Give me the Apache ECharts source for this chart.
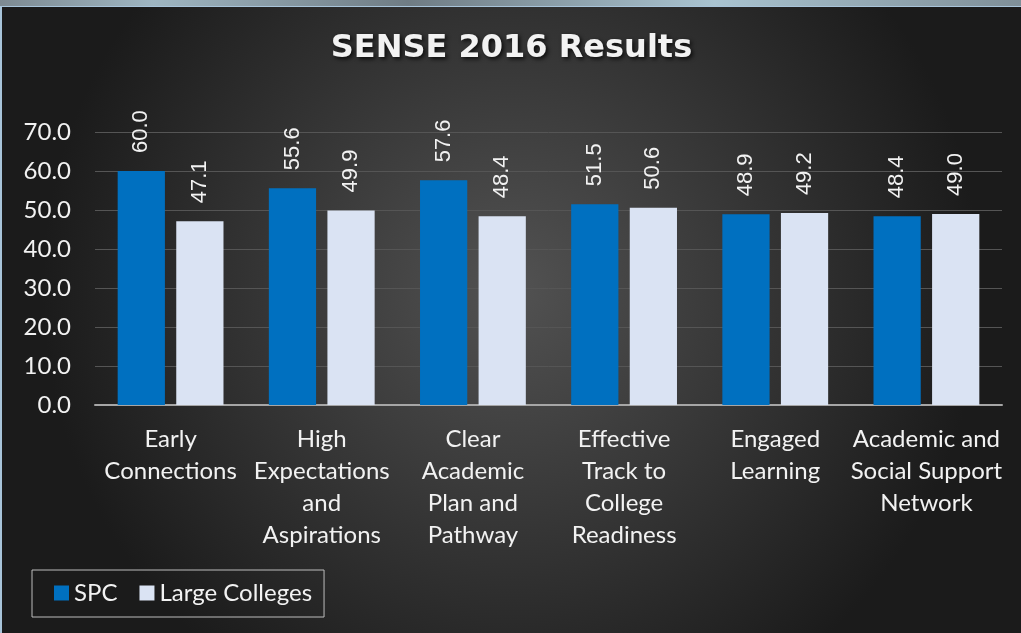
<!DOCTYPE html>
<html>
<head>
<meta charset="utf-8">
<script src="https://cdn.jsdelivr.net/npm/echarts@6/dist/echarts.min.js"></script>
<style>
	html, body { margin: 0; padding: 0; background: #1e1e1e; }
	#strip { position: absolute; left: 0; top: 0; width: 1021px; height: 6px;
		background: linear-gradient(90deg, #7d8a92, #9fb6c2 15%, #6f7c84 40%, #a9c3d0 70%, #7f8f98); }
	#chart { position: absolute; left: 0; top: 6px; width: 1021px; height: 627px;
		border-top: 1px solid #a8c4da; border-left: 2px solid #a8c4da; box-sizing: border-box; }
</style>
</head>
<body>
<div id="strip"></div>
<div id="chart"></div>
<script>
var categories = ['Early\nConnections', 'High\nExpectations\nand\nAspirations', 'Clear\nAcademic\nPlan and\nPathway',
	'Effective\nTrack to\nCollege\nReadiness', 'Engaged\nLearning', 'Academic and\nSocial Support\nNetwork'];
var spcValues = [60.0, 55.6, 57.6, 51.5, 48.9, 48.4];
var largeValues = [47.1, 49.9, 48.4, 50.6, 49.2, 49.0];
var seriesNames = ['SPC', 'Large Colleges'];

window.onload = function() {
	var myChart = echarts.init(document.getElementById('chart'));
	var labelStyle = {
		show: true,
		position: 'top',
		rotate: 90,
		align: 'left',
		verticalAlign: 'middle',
		distance: 18,
		color: '#f2f2f2',
		fontFamily: 'Liberation Sans',
		fontSize: 22,
		formatter: function(p) { return p.value.toFixed(1); }
	};
	var option = {
		backgroundColor: {
			type: 'radial', x: 0.5, y: 0.45, r: 0.75,
			colorStops: [{ offset: 0, color: '#525252' }, { offset: 1, color: '#1b1b1b' }]
		},
		animation: false,
		title: {
			text: 'SENSE 2016 Results',
			left: 'center',
			top: 21,
			textStyle: {
				color: '#f2f2f2', fontFamily: 'DejaVu Sans', fontWeight: 'bold', fontSize: 32,
				textShadowColor: 'rgba(0,0,0,0.8)', textShadowBlur: 4, textShadowOffsetX: 2, textShadowOffsetY: 2
			}
		},
		legend: {
			data: seriesNames,
			left: 30,
			top: 563,
			padding: [11, 12, 12, 22],
			borderColor: '#bdbdbd',
			borderWidth: 1,
			itemWidth: 15,
			itemHeight: 15,
			itemGap: 22,
			icon: 'rect',
			textStyle: { color: '#f2f2f2', fontFamily: 'Lato', fontSize: 24 }
		},
		grid: { left: 93, right: 19, top: 125, bottom: 228, containLabel: false },
		xAxis: {
			type: 'category',
			data: categories,
			axisLine: { lineStyle: { color: '#a6a6a6', width: 2 } },
			axisTick: { show: false },
			axisLabel: {
				color: '#f2f2f2', fontFamily: 'Lato', fontSize: 24, lineHeight: 32,
				margin: 18, interval: 0
			}
		},
		yAxis: {
			type: 'value',
			min: 0, max: 70, interval: 10,
			axisLine: { show: false },
			axisTick: { show: false },
			splitLine: { lineStyle: { color: '#555555', width: 1 } },
			axisLabel: {
				color: '#f2f2f2', fontFamily: 'Lato', fontSize: 24, margin: 24,
				formatter: function(v) { return v.toFixed(1); }
			}
		},
		series: [{
			name: seriesNames[0],
			type: 'bar',
			data: spcValues,
			itemStyle: { color: '#0070c0' },
			barGap: '24%',
			barCategoryGap: '30%',
			label: labelStyle
		}, {
			name: seriesNames[1],
			type: 'bar',
			data: largeValues,
			itemStyle: { color: '#dae3f3' },
			label: labelStyle
		}]
	};
	myChart.setOption(option);
};
</script>
</body>
</html>
